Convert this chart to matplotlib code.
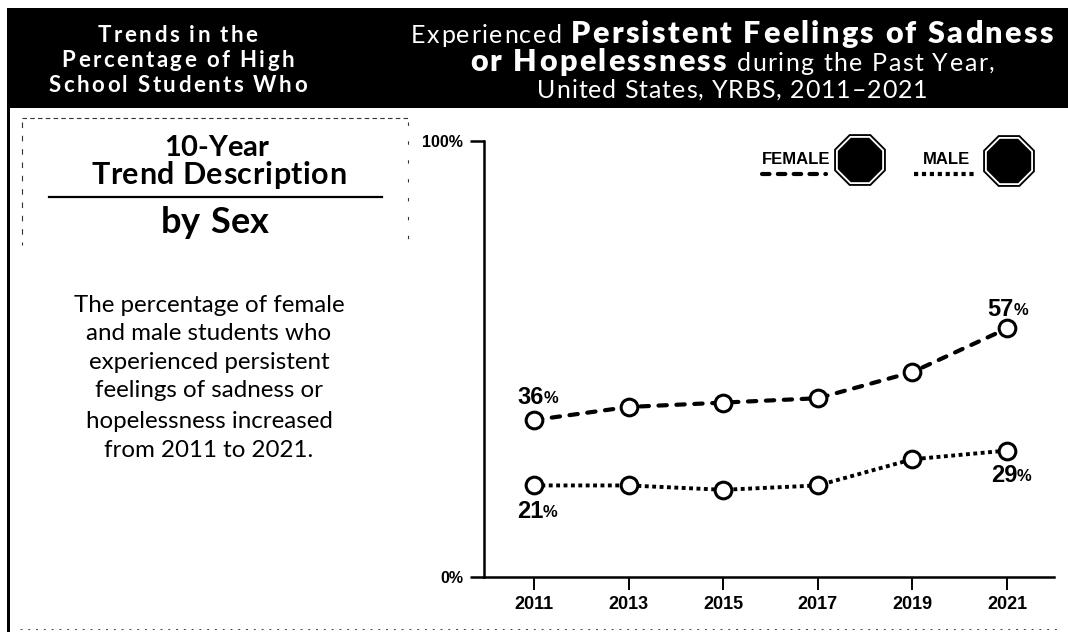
import matplotlib
matplotlib.use('Agg')
import matplotlib.pyplot as plt
from matplotlib.patches import Rectangle, RegularPolygon
import numpy as np

# Percent of students by survey year
years = [2011, 2013, 2015, 2017, 2019, 2021]
female = [36, 39, 40, 41, 47, 57]
male = [21, 21, 20, 21, 27, 29]

W, H = 1068, 632
plt.rcParams['font.family'] = ['Lato', 'DejaVu Sans']
NARROW = ['Liberation Sans', 'DejaVu Sans']

fig = plt.figure(figsize=(W / 100, H / 100), dpi=100)

# pixel-based layer for the header, panel text and legend
bg = fig.add_axes([0, 0, 1, 1])
bg.set_xlim(0, W)
bg.set_ylim(H, 0)
bg.axis('off')
renderer = fig.canvas.get_renderer()


def run_width(s, **kw):
    # pad with x on both sides so that spaces are counted
    t = bg.text(0, 0, 'x' + s + 'x', **kw)
    w = t.get_window_extent(renderer).width
    t.set_text('xx')
    w -= t.get_window_extent(renderer).width
    t.remove()
    return w


def centered_runs(cx, y, runs, color='white'):
    # runs is a list of (text, weight, size, tracking), set letter by letter around cx
    chars = [(c, wt, sz, tr) for s, wt, sz, tr in runs for c in s]
    widths = [run_width(c, fontweight=wt, fontsize=sz) + tr for c, wt, sz, tr in chars]
    x = cx - sum(widths) / 2
    for (c, wt, sz, tr), w in zip(chars, widths):
        bg.text(x, y, c, color=color, fontweight=wt, fontsize=sz, ha='left', va='baseline')
        x += w


# header band and left frame line
bg.add_patch(Rectangle((7, 8), W - 7, 100, color='black', lw=0))
bg.add_patch(Rectangle((7, 108), 3, H - 108, color='black', lw=0))

for y, s in zip([42, 67, 92], ['Trends in the', 'Percentage of High', 'School Students Who']):
    centered_runs(179, y, [(s, 'bold', 16, 2.4)])

centered_runs(733, 43, [('Experienced ', 'normal', 18, 1.5), ('Persistent Feelings of Sadness', 'heavy', 22, 2.3)])
centered_runs(733, 71, [('or Hopelessness', 'heavy', 22, 2.3), (' during the Past Year,', 'normal', 18, 1.5)])
centered_runs(733, 98, [('United States, YRBS, 2011\u20132021', 'normal', 18, 0.9)])

# broken frame round the panel title
bg.plot([22, 408], [118, 118], color='#333333', lw=0.8, dashes=(4, 3))
bg.plot([22, 22], [122, 245], color='#333333', lw=0.8, dashes=(5, 7))
bg.plot([408, 408], [122, 250], color='#333333', lw=0.8, dashes=(3, 14))

centered_runs(216, 156, [('10-Year', 'bold', 21, 0)], color='black')
centered_runs(219, 184, [('Trend Description', 'bold', 22, 0.5)], color='black')
bg.plot([49, 382], [197, 197], color='black', lw=1.6)
centered_runs(215, 233, [('by Sex', 'bold', 26, 0.5)], color='black')

body = ['The percentage of female', 'and male students who', 'experienced persistent',
        'feelings of sadness or', 'hopelessness increased', 'from 2011 to 2021.']
for y, s in zip([312, 340, 369, 397, 428, 457], body):
    bg.text(209, y, s, ha='center', va='baseline', fontsize=17.4)

# scan specks along the foot of the page
bg.plot([20, 1060], [629, 629], color='#444444', lw=0.7, dashes=(2, 6))

# legend
for cx, cy, name, tx, lx, dash, cap in [(860, 160, 'FEMALE', 796, (762, 826), (1.8, 2.0), 'round'),
                                        (1009, 161, 'MALE', 946, (914, 977), (1.0, 0.9), 'butt')]:
    for r, fc in [(28, 'black'), (26, 'white'), (24, 'black')]:
        bg.add_patch(RegularPolygon((cx, cy), 8, radius=r, orientation=np.pi / 8, color=fc, lw=0))
    bg.text(tx, 159, name, ha='center', va='center', fontsize=12, fontweight='bold', family=NARROW)
    bg.plot(lx, [174, 174], color='black', lw=3, dashes=dash, dash_capstyle=cap)

# the chart itself
ax = fig.add_axes([484 / W, 1 - 577 / H, (1054 - 484) / W, (577 - 141) / H])
ax.patch.set_alpha(0)
ax.set_xlim(2011 - 50 / 47.3, 2021 + 47 / 47.3)
ax.set_ylim(0, 100)
for side in ['top', 'right']:
    ax.spines[side].set_visible(False)
for side in ['left', 'bottom']:
    ax.spines[side].set_linewidth(1.8)
ax.set_xticks(years)
ax.set_xticklabels(years, fontsize=13, fontweight='bold', family=NARROW)
ax.set_yticks([0, 100])
ax.set_yticklabels(['0%', '100%'], fontsize=11.5, fontweight='bold', family=NARROW)
ax.tick_params(axis='x', length=9.4, width=1.4, pad=4)
ax.tick_params(axis='y', length=10, width=1.8, pad=5)

marker = dict(marker='o', ms=12, mfc='white', mec='black', mew=2.2, clip_on=False)
ax.plot(years, female, color='black', lw=3, dashes=(2.0, 2.3), dash_capstyle='round', **marker)
ax.plot(years, male, color='black', lw=2.8, dashes=(1.0, 0.9), **marker)


def value_label(x, v, dx, dy):
    # number in large type, percent sign in small type beside it
    ax.annotate(str(v), (x, v), xytext=(dx, dy), textcoords='offset pixels', ha='right', va='center',
                fontsize=17, fontweight='bold', family=NARROW)
    ax.annotate('%', (x, v), xytext=(dx, dy - 1), textcoords='offset pixels', ha='left', va='center',
                fontsize=12, fontweight='bold', family=NARROW)


value_label(2011, female[0], 10, 23)
value_label(2021, female[-1], 7, 19)
value_label(2011, male[0], 9, -26)
value_label(2021, male[-1], 10, -25)

fig.savefig('out.png', dpi=100)
